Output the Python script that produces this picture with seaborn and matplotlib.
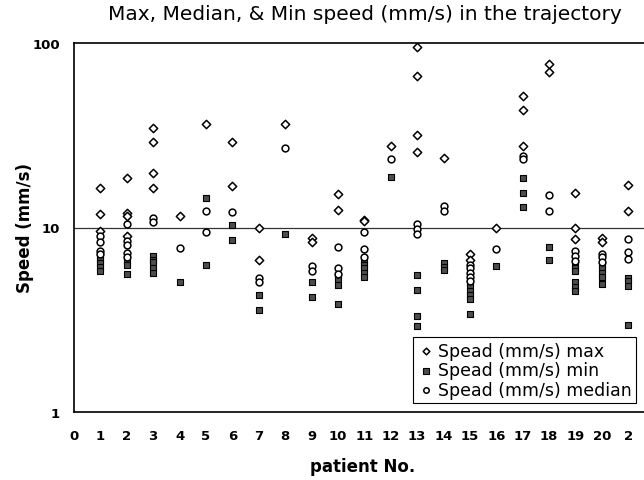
import matplotlib
matplotlib.use("Agg")
import matplotlib.pyplot as plt
import seaborn as sns
import pandas as pd

# ---- data ----
patients = list(range(1, 22))
xtick_labels = [str(i) for i in range(0, 21)] + ["2"]

max_speed = [
    [16.4, 11.8, 9.6],
    [18.5, 12.0, 11.5, 9.0],
    [34.5, 29.0, 19.7, 16.4],
    [11.6],
    [36.3],
    [29.0, 16.8],
    [9.9, 6.7],
    [36.4],
    [8.8, 8.3],
    [15.1, 12.4],
    [11.0, 10.8],
    [27.8],
    [94.9, 66.1, 31.9, 25.6],
    [23.7],
    [7.2, 6.7],
    [10.0],
    [51.9, 43.3, 27.8],
    [77.1, 70.0],
    [15.3, 10.0, 8.7],
    [8.8, 8.3],
    [17.1, 12.3],
]
min_speed = [
    [7.0, 6.7, 6.4, 6.1, 5.8],
    [6.6, 6.3, 5.6],
    [7.0, 6.7, 6.5, 6.0, 5.7],
    [5.05],
    [14.4, 6.25],
    [10.3, 8.6],
    [4.3, 3.55],
    [9.2],
    [5.05, 4.2],
    [5.5, 5.2, 4.9, 3.85],
    [6.6, 6.3, 6.0, 5.7, 5.4],
    [18.8],
    [5.5, 4.6, 3.3, 2.93],
    [6.4, 6.1, 5.9],
    [5.0, 4.8, 4.5, 4.3, 4.1, 3.4],
    [6.2],
    [18.6, 15.4, 12.9],
    [7.8, 6.7],
    [6.3, 6.0, 5.8, 5.05, 4.75, 4.5],
    [6.3, 6.0, 5.7, 5.4, 4.95],
    [5.35, 5.1, 4.8, 2.96],
]
median_speed = [
    [9.0, 8.3, 7.5, 7.2],
    [10.4, 8.5, 8.0, 7.3, 6.9],
    [11.3, 10.7],
    [7.7],
    [12.3, 9.4],
    [12.2],
    [5.3, 5.05],
    [27.1],
    [6.2, 5.8],
    [7.8, 6.0, 5.6],
    [9.4, 7.6, 6.9],
    [23.5],
    [10.4, 9.8, 9.2],
    [13.1, 12.3],
    [6.3, 6.0, 5.7, 5.4, 5.1],
    [7.6],
    [24.5, 23.5],
    [15.0, 12.3],
    [7.5, 7.0, 6.6],
    [7.2, 6.9, 6.5],
    [8.7, 7.35, 6.75],
]

series_names = ["Spead (mm/s) max", "Spead (mm/s) min", "Spead (mm/s) median"]


def to_long(values, name):
    rows = []
    for p, vals in zip(patients, values):
        for v in vals:
            rows.append({"patient": p, "speed": v, "series": name})
    return pd.DataFrame(rows)


df_max = to_long(max_speed, series_names[0])
df_min = to_long(min_speed, series_names[1])
df_med = to_long(median_speed, series_names[2])

# ---- plot ----
sns.set_theme(style="white")
plt.rcParams["font.family"] = ["DejaVu Sans"]
plt.rcParams["text.color"] = "black"
plt.rcParams["axes.labelcolor"] = "black"

fig = plt.figure(figsize=(6.44, 4.81), dpi=100)
ax = fig.add_axes([74 / 644, 68 / 481, 1 - 74 / 644 + 0.01, 369 / 481])

ax.axhline(10, color="#333333", lw=0.9, zorder=1)

sns.scatterplot(data=df_max, x="patient", y="speed", marker="D", s=18,
                facecolor="white", edgecolor="black", linewidth=1.1,
                ax=ax, label=series_names[0], zorder=3)
sns.scatterplot(data=df_min, x="patient", y="speed", marker="s", s=24,
                color="#4d4d4d", edgecolor="black", linewidth=0.8,
                ax=ax, label=series_names[1], zorder=2)
sns.scatterplot(data=df_med, x="patient", y="speed", marker="o", s=24,
                facecolor="white", edgecolor="black", linewidth=1.1,
                ax=ax, label=series_names[2], zorder=3)

ax.set_yscale("log")
ax.set_ylim(1, 100)
ax.set_xlim(0, 21.84)
ax.set_xticks(range(0, 22))
ax.set_xticklabels(xtick_labels, fontsize=9.5, fontweight="bold")
ax.set_yticks([1, 10, 100])
ax.set_yticklabels(["1", "10", "100"], fontsize=9.5, fontweight="bold")
ax.yaxis.set_minor_locator(matplotlib.ticker.NullLocator())
ax.tick_params(axis="x", direction="in", length=3, width=0.8, pad=12, colors="black")
ax.tick_params(axis="y", length=0, pad=10, colors="black")

for side in ["left", "bottom", "top"]:
    ax.spines[side].set_color("black")
    ax.spines[side].set_linewidth(1.2)
ax.spines["right"].set_visible(False)

ax.set_xlabel("patient No.", fontsize=12, fontweight="bold", labelpad=11, color="black")
ax.set_ylabel("")
fig.text(25 / 644, 1 - 228 / 481, "Speed (mm/s)", rotation=90, ha="center",
         va="center", fontsize=12, fontweight="bold", color="black")

fig.text(365 / 644, 1 - 15 / 481, "Max, Median, & Min speed (mm/s) in the trajectory",
         ha="center", va="center", fontsize=14.5, color="black")

leg = ax.legend(loc="lower right", bbox_to_anchor=(0.99, 0.0), frameon=True,
                fancybox=False, edgecolor="black", fontsize=12.5,
                handletextpad=0.2, borderpad=0.25, labelspacing=0.1,
                handlelength=1.0, markerscale=0.8, framealpha=1)
leg.get_frame().set_linewidth(0.8)
for t in leg.get_texts():
    t.set_color("black")

fig.savefig("out.png", dpi=100)
